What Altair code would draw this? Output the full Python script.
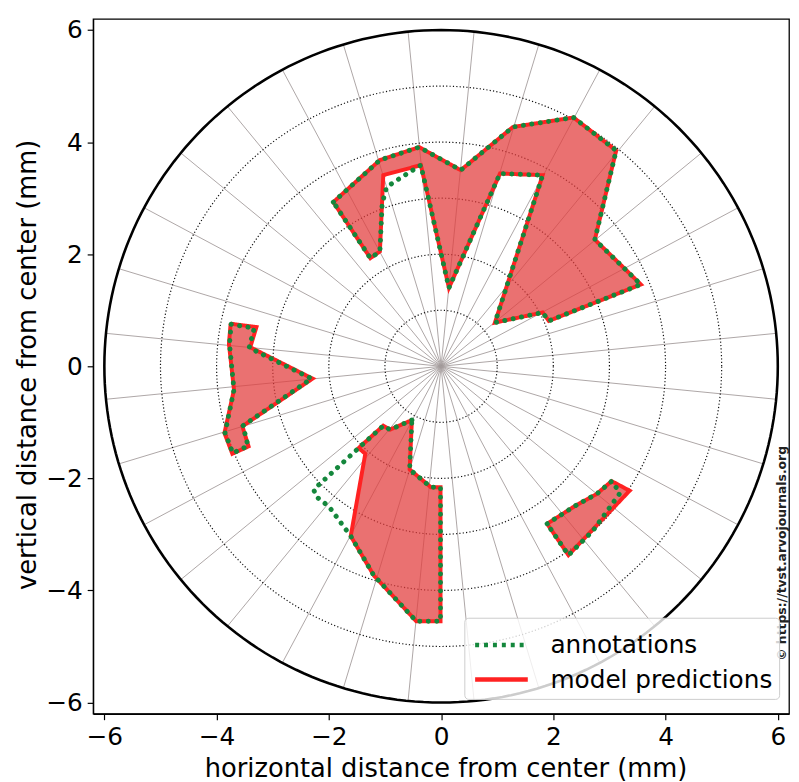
import altair as alt
import pandas as pd
import numpy as np

# ---------------- data (mm) ----------------
# model predictions (red outlines / filled)
top_pred_x = [-1.92, -1.09, -0.39, 0.35, 1.28, 2.36, 3.12, 2.74, 3.56, 1.92, 1.81, 0.96, 1.81, 1.05, 0.14, -0.36, -1.03, -1.09, -1.26]
top_pred_y = [2.93, 3.68, 3.91, 3.50, 4.27, 4.44, 3.85, 2.26, 1.46, 0.81, 0.96, 0.78, 3.41, 3.44, 1.40, 3.59, 3.41, 2.05, 1.93]
left_pred_x = [-3.75, -3.29, -3.40, -2.29, -3.54, -3.43, -3.72, -3.86, -3.69, -3.78]
left_pred_y = [0.76, 0.70, 0.34, -0.22, -1.07, -1.43, -1.56, -1.19, -0.42, 0.40]
bottom_pred_x = [-0.52, -0.91, -1.03, -1.47, -1.35, -1.61, -1.20, -0.44, -0.01, -0.01, -0.18, -0.56]
bottom_pred_y = [-0.96, -1.13, -1.06, -1.46, -1.56, -3.03, -3.73, -4.55, -4.55, -2.16, -2.16, -1.84]
right_pred_x = [1.89, 2.39, 2.77, 3.04, 3.36, 2.27]
right_pred_y = [-2.81, -2.49, -2.28, -2.05, -2.22, -3.37]

# annotations (green dotted outlines)
top_ann_x = [-1.92, -1.09, -0.39, 0.35, 1.28, 2.36, 3.12, 2.74, 3.56, 1.92, 1.81, 0.96, 1.81, 1.05, 0.14, -0.36, -0.74, -0.97, -1.05, -1.09, -1.26]
top_ann_y = [2.93, 3.68, 3.91, 3.50, 4.27, 4.44, 3.85, 2.26, 1.46, 0.81, 0.96, 0.78, 3.41, 3.44, 1.40, 3.59, 3.35, 3.20, 2.90, 2.05, 1.93]
left_ann_x = [-3.74, -3.33, -3.42, -2.31, -3.53, -3.44, -3.71, -3.85, -3.69, -3.77]
left_ann_y = [0.75, 0.68, 0.33, -0.22, -1.06, -1.42, -1.55, -1.19, -0.42, 0.40]
bottom_ann_x = [-0.52, -0.91, -1.03, -1.47, -2.27, -2.22, -2.00, -1.61, -1.20, -0.44, -0.01, -0.01, -0.18, -0.56]
bottom_ann_y = [-0.96, -1.13, -1.06, -1.46, -2.20, -2.33, -2.50, -3.03, -3.73, -4.55, -4.55, -2.16, -2.16, -1.84]
right_ann_x = [1.89, 2.39, 2.77, 3.04, 3.19, 2.71, 2.27]
right_ann_y = [-2.81, -2.49, -2.28, -2.05, -2.26, -2.93, -3.37]

series_names = ["annotations", "model predictions"]
tick_values = [-6, -4, -2, 0, 2, 4, 6]
ring_radii = [1, 2, 3, 4, 5]
outer_radius = 6
n_spokes = 32
watermark = "© https://tvst.arvojournals.org"

# ---------------- frames ----------------
def poly_rows(xs, ys, pid, series):
    n = len(xs)
    return [{"x": xs[k % n], "y": ys[k % n], "poly": pid, "i": k, "series": series} for k in range(n + 1)]

pred_rows = (poly_rows(top_pred_x, top_pred_y, "top", series_names[1])
             + poly_rows(left_pred_x, left_pred_y, "left", series_names[1])
             + poly_rows(bottom_pred_x, bottom_pred_y, "bottom", series_names[1])
             + poly_rows(right_pred_x, right_pred_y, "right", series_names[1]))
ann_rows = (poly_rows(top_ann_x, top_ann_y, "top", series_names[0])
            + poly_rows(left_ann_x, left_ann_y, "left", series_names[0])
            + poly_rows(bottom_ann_x, bottom_ann_y, "bottom", series_names[0])
            + poly_rows(right_ann_x, right_ann_y, "right", series_names[0]))
pred_df = pd.DataFrame(pred_rows)
ann_df = pd.DataFrame(ann_rows)

theta = np.linspace(0, 2 * np.pi, 241)
ring_df = pd.DataFrame([{"x": r * np.cos(t), "y": r * np.sin(t), "r": r, "i": k}
                        for r in ring_radii for k, t in enumerate(theta)])
outer_df = pd.DataFrame([{"x": outer_radius * np.cos(t), "y": outer_radius * np.sin(t), "i": k}
                         for k, t in enumerate(theta)])
spoke_ang = [(k + 0.5) * 2 * np.pi / n_spokes for k in range(n_spokes)]
spoke_df = pd.DataFrame({"x": [0.0] * n_spokes, "y": [0.0] * n_spokes,
                         "x2": [outer_radius * np.cos(a) for a in spoke_ang],
                         "y2": [outer_radius * np.sin(a) for a in spoke_ang]})

# ---------------- scales / axes ----------------
LFS = 25
TFS = 26
xscale = alt.Scale(domain=[-6.2, 6.2], nice=False, zero=False)
yscale = alt.Scale(domain=[-6.2, 6.2], nice=False, zero=False)
xaxis = alt.Axis(values=tick_values, title="horizontal distance from center (mm)", grid=False,
                 labelFontSize=LFS, titleFontSize=TFS, titleFontWeight="normal", tickSize=6,
                 labelPadding=5, domainColor="black", tickColor="black",
                 labelColor="black", titleColor="black", domainWidth=1.3, tickWidth=1.2,
                 titleX=356, titleY=55, titleAlign="center", titleBaseline="middle")
yaxis = alt.Axis(values=tick_values, title="vertical distance from center (mm)", grid=False,
                 labelFontSize=LFS, titleFontSize=TFS, titleFontWeight="normal", tickSize=6,
                 labelPadding=5, domainColor="black", tickColor="black", labelColor="black",
                 titleColor="black", domainWidth=1.3, tickWidth=1.2,
                 titleX=-66, titleY=349, titleAlign="center", titleBaseline="middle", titleAngle=270)

X = alt.X("x:Q", scale=xscale, axis=xaxis)
Y = alt.Y("y:Q", scale=yscale, axis=yaxis)

spokes = alt.Chart(spoke_df).mark_rule(color="#a49c9c", strokeWidth=0.9).encode(
    x=X, y=Y, x2="x2:Q", y2="y2:Q")

rings = alt.Chart(ring_df).mark_line(color="#111111", strokeWidth=1.2, strokeDash=[1.2, 2.2]).encode(
    x=X, y=Y, detail="r:N", order="i:Q")

outer = alt.Chart(outer_df).mark_line(color="black", strokeWidth=2.6).encode(
    x=X, y=Y, order="i:Q")

fills = alt.Chart(pred_df).mark_line(fill="#e23c3c", fillOpacity=0.73, strokeOpacity=0, strokeWidth=0).encode(
    x=X, y=Y, detail="poly:N", order="i:Q")

legend = alt.Legend(title=None, orient="none", legendX=375, legendY=605,
                    fillColor="rgba(255,255,255,0.8)", strokeColor="#cccccc", cornerRadius=4,
                    padding=6, labelFontSize=LFS, labelColor="black", labelLimit=400,
                    symbolType="M-1.4,0H1.4", symbolSize=1444, symbolStrokeWidth=4.5,
                    symbolOffset=10, rowPadding=0, labelOffset=28)

color = alt.Color("series:N", scale=alt.Scale(domain=series_names, range=["#14873c", "#ff2222"]), legend=legend)
dash = alt.StrokeDash("series:N", scale=alt.Scale(domain=series_names, range=[[4, 5], [1, 0]]), legend=legend)

red_lines = alt.Chart(pred_df).mark_line(strokeWidth=4, strokeJoin="miter").encode(
    x=X, y=Y, detail="poly:N", order="i:Q", color=color, strokeDash=dash)

green_lines = alt.Chart(ann_df).mark_line(strokeWidth=5, strokeCap="round", strokeJoin="round",
                                           strokeDash=[0.1, 8.5]).encode(
    x=X, y=Y, detail="poly:N", order="i:Q", color=color)

wm = alt.Chart(pd.DataFrame({"t": [watermark]})).mark_text(
    angle=270, fontSize=12.5, fontWeight="bold", color="#222222", baseline="middle").encode(
    text="t:N", x=alt.value(695.5), y=alt.value(540))

chart = alt.layer(spokes, rings, outer, fills, red_lines, green_lines, wm).properties(
    width=703, height=702,
    autosize=alt.AutoSizeParams(type="none"),
    padding={"left": 86, "top": 7, "right": 2, "bottom": 65},
).configure(font="DejaVu Sans").configure_view(stroke="black", strokeWidth=1.3)

chart.save("out.html", embed_options={"renderer": "svg", "actions": False})
